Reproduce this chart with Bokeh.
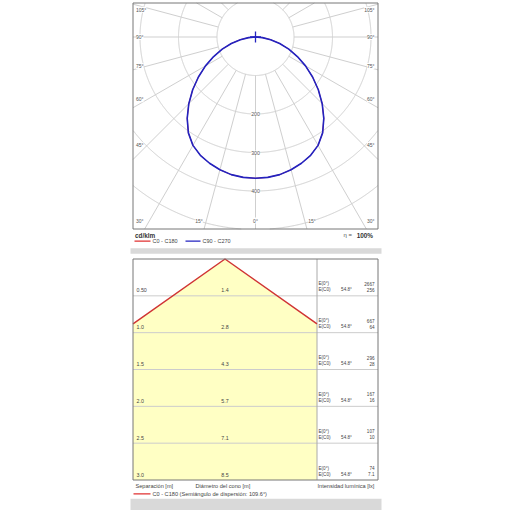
import numpy as np
from bokeh.plotting import figure
from bokeh.models import Range1d, Label
from bokeh.embed import file_html
from bokeh.resources import INLINE

# ---------------- data ----------------
gamma_deg = [0, 5, 10, 15, 20, 25, 30, 35, 40, 45, 50, 55, 60, 65, 70, 75, 80, 85, 90]
c0_c180 = [367, 366, 363, 357, 349, 339, 325, 304, 276, 245, 213, 181, 150, 120, 92, 65, 40, 18, 0]
c90_c270 = [367, 366, 363, 357, 349, 339, 325, 304, 276, 245, 213, 181, 150, 120, 92, 65, 40, 18, 0]
ring_values = [100, 200, 300, 400, 500, 600, 700]
ring_labels = [200, 300, 400]
spoke_step_deg = 15
angle_ticks = [-105, -90, -75, -60, -45, -30, -15, 0, 15, 30, 45, 60, 75, 90, 105]

separation_m = [0.5, 1.0, 1.5, 2.0, 2.5, 3.0]
separation_labels = ["0.50", "1.0", "1.5", "2.0", "2.5", "3.0"]
cone_diameter_m = ["1.4", "2.8", "4.3", "5.7", "7.1", "8.5"]
e_center_lx = ["2667", "667", "296", "167", "107", "74"]
e_c0_lx = ["256", "64", "28", "16", "10", "7.1"]
half_angle_deg = 54.8
beam_angle_deg = 109.6
efficiency = "100%"

# ---------------- layout constants (page px) ----------------
W, H = 510, 510
FONT = "Liberation Sans"
POL_CX, POL_CY = 255.0, 36.5
S = 0.385                      # px per cd/klm
PB_L, PB_R, PB_T, PB_B = 132.5, 377.5, 2.5, 228.5
BB_L, BB_R, BB_T, BB_B = 132.5, 377.5, 258.5, 479.5
DIV_X = 316.5
APEX_X = (BB_L + DIV_X) / 2.0
MAX_SEP = separation_m[-1]
K = (BB_B - BB_T) / MAX_SEP     # px per metre
HALF_REGION_M = (DIV_X - BB_L) / 2.0 / K
BLUE = "#2323c0"
RED = "#e03030"

p = figure(width=W, height=H, title=None, toolbar_location=None,
           x_axis_location=None, y_axis_location=None, min_border=0,
           output_backend="svg", x_range=Range1d(0, W), y_range=Range1d(H, 0))
p.grid.visible = False
p.outline_line_color = None
p.background_fill_color = "white"
p.border_fill_color = "white"

p.extra_x_ranges = {
    "pol": Range1d((0 - POL_CX) / S, (W - POL_CX) / S),
    "m": Range1d((0 - APEX_X) / K, (W - APEX_X) / K),
}
p.extra_y_ranges = {
    "pol": Range1d(-(H - POL_CY) / S, POL_CY / S),
    "m": Range1d((H - BB_T) / K, (0 - BB_T) / K),
}

# ---------------- gray bands ----------------
p.quad(left=[130, 130], right=[381, 381], top=[247.7, 498.3], bottom=[253.3, 512],
       fill_color="#d9d9d9", line_color=None)

# ---------------- polar grid ----------------
bx0, bx1 = (PB_L - POL_CX) / S, (PB_R - POL_CX) / S
by_top, by_bot = (POL_CY - PB_T) / S, -(PB_B - POL_CY) / S
GRID = "#cfcfcf"
phi = np.radians(np.arange(0, 360.01, 0.25))
for R in ring_values:
    x = R * np.sin(phi)
    y = R * np.cos(phi)
    inside = (x >= bx0) & (x <= bx1) & (y <= by_top) & (y >= by_bot)
    x = np.where(inside, x, np.nan)
    y = np.where(inside, y, np.nan)
    p.line(x, y, line_color=GRID, line_width=1, x_range_name="pol", y_range_name="pol")

sx, sy = [], []
r0 = ring_values[0]
for a in range(0, 360, spoke_step_deg):
    th = np.radians(a)
    dx, dy = np.sin(th), -np.cos(th)
    tx = bx1 / dx if dx > 1e-9 else (bx0 / dx if dx < -1e-9 else np.inf)
    ty = by_top / dy if dy > 1e-9 else (by_bot / dy if dy < -1e-9 else np.inf)
    t = min(tx, ty)
    if t > r0:
        sx.append([r0 * dx, t * dx])
        sy.append([r0 * dy, t * dy])
p.multi_line(sx, sy, line_color=GRID, line_width=1, x_range_name="pol", y_range_name="pol")

# ---------------- polar curves ----------------
g = np.array(gamma_deg, dtype=float)
def full_curve(vals):
    v = np.array(vals, dtype=float)
    ang = np.concatenate([-g[::-1], g[1:]])
    iv = np.concatenate([v[::-1], v[1:]])
    th = np.radians(ang)
    return iv * np.sin(th), -iv * np.cos(th)

x0, y0 = full_curve(c0_c180)
p.line(x0, y0, line_color=RED, line_width=1.0, x_range_name="pol", y_range_name="pol")
x9, y9 = full_curve(c90_c270)
p.line(x9, y9, line_color=BLUE, line_width=1.6, line_join="round",
       x_range_name="pol", y_range_name="pol")
p.scatter([0], [0], marker="cross", size=11, line_color=BLUE, line_width=1.3,
          x_range_name="pol", y_range_name="pol")

# box
p.quad(left=PB_L, right=PB_R, top=PB_T, bottom=PB_B, fill_color=None,
       line_color="#777777", line_width=1)

# angle labels
for a in angle_ticks:
    aa = abs(a)
    if aa >= 30:
        y = POL_CY + (108.0 / np.tan(np.radians(aa)) if aa != 90 else 0.0)
        y = min(max(y, 9.3), 220.0)
        if a < 0:
            x, al = 135.5, "left"
        else:
            x, al = 374.0, "right"
    else:
        y = 220.0
        x = POL_CX + 211.0 * np.tan(np.radians(a))
        al = "center"
    p.add_layout(Label(x=x, y=y, text=f"{aa}°", text_align=al, text_baseline="middle",
                       text_font=FONT, text_font_size="5px", text_color="#555555",
                       background_fill_color="white"))

for R in ring_labels:
    p.add_layout(Label(x=0, y=-R, x_range_name="pol", y_range_name="pol", text=str(R),
                       text_align="center", text_baseline="middle", text_font=FONT,
                       text_font_size="5.2px", text_color="#555555",
                       background_fill_color="white"))

# legend under polar
p.add_layout(Label(x=134.5, y=234.5, text="cd/klm", text_font=FONT, text_font_size="6.4px",
                   text_font_style="bold", text_color="#333333", text_baseline="middle"))
p.add_layout(Label(x=343, y=234.5, text="η =", text_font=FONT, text_font_size="6px",
                   text_color="#555555", text_baseline="middle"))
p.add_layout(Label(x=372.5, y=234.5, text=efficiency, text_font=FONT, text_font_size="6.4px",
                   text_font_style="bold", text_color="#333333", text_baseline="middle",
                   text_align="right"))
p.line([134, 150], [240.7, 240.7], line_color=RED, line_width=1.3)
p.add_layout(Label(x=152, y=240.7, text="C0 - C180", text_font=FONT, text_font_size="5.5px",
                   text_color="#444444", text_baseline="middle"))
p.line([185, 200], [240.7, 240.7], line_color=BLUE, line_width=1.3)
p.add_layout(Label(x=202, y=240.7, text="C90 - C270", text_font=FONT, text_font_size="5.5px",
                   text_color="#444444", text_baseline="middle"))

# ---------------- cone diagram ----------------
h_edge = HALF_REGION_M / np.tan(np.radians(half_angle_deg))
p.patch([0, -HALF_REGION_M, -HALF_REGION_M, HALF_REGION_M, HALF_REGION_M],
        [0, h_edge, MAX_SEP, MAX_SEP, h_edge],
        fill_color="#ffffc4", line_color=None, x_range_name="m", y_range_name="m")

# row grid lines
xr_m = (BB_R - APEX_X) / K
p.multi_line([[-HALF_REGION_M, xr_m] for _ in separation_m[:-1]],
             [[s, s] for s in separation_m[:-1]],
             line_color="#cccccc", line_width=1, x_range_name="m", y_range_name="m")
p.line([DIV_X, DIV_X], [BB_T, BB_B], line_color="#aaaaaa", line_width=1)

# cone edges
p.line([-HALF_REGION_M, 0, HALF_REGION_M], [h_edge, 0, h_edge], line_color="#d03535",
       line_width=1.5, x_range_name="m", y_range_name="m")

p.quad(left=BB_L, right=BB_R, top=BB_T, bottom=BB_B, fill_color=None,
       line_color="#777777", line_width=1)

for s, sl, d, e0, ec in zip(separation_m, separation_labels, cone_diameter_m, e_center_lx, e_c0_lx):
    yb = BB_T + s * K
    p.add_layout(Label(x=136, y=yb - 5.5, text=sl, text_font=FONT, text_font_size="5.3px",
                       text_color="#444444", text_baseline="middle"))
    p.add_layout(Label(x=APEX_X, y=yb - 5.5, text=d, text_font=FONT, text_font_size="5.3px",
                       text_color="#444444", text_baseline="middle", text_align="center"))
    p.add_layout(Label(x=318, y=yb - 12, text="E(0°)", text_font=FONT, text_font_size="4.6px",
                       text_color="#444444", text_baseline="middle"))
    p.add_layout(Label(x=318, y=yb - 6, text="E(C0)", text_font=FONT, text_font_size="4.6px",
                       text_color="#444444", text_baseline="middle"))
    p.add_layout(Label(x=346, y=yb - 6, text=f"{half_angle_deg}°", text_font=FONT,
                       text_font_size="4.6px", text_color="#444444", text_baseline="middle",
                       text_align="center"))
    p.add_layout(Label(x=374, y=yb - 12, text=e0, text_font=FONT, text_font_size="4.6px",
                       text_color="#444444", text_baseline="middle", text_align="right"))
    p.add_layout(Label(x=374, y=yb - 6, text=ec, text_font=FONT, text_font_size="4.6px",
                       text_color="#444444", text_baseline="middle", text_align="right"))

p.add_layout(Label(x=135, y=485.5, text="Separación [m]", text_font=FONT, text_font_size="5.6px",
                   text_color="#444444", text_baseline="middle"))
p.add_layout(Label(x=195, y=485.5, text="Diámetro del cono [m]", text_font=FONT,
                   text_font_size="5.6px", text_color="#444444", text_baseline="middle"))
p.add_layout(Label(x=317, y=485.5, text="Intensidad lumínica [lx]", text_font=FONT,
                   text_font_size="5.6px", text_color="#444444", text_baseline="middle"))
p.line([133, 150], [493.3, 493.3], line_color=RED, line_width=1.3)
p.add_layout(Label(x=152, y=493.3, text=f"C0 - C180 (Semiángulo de dispersión: {beam_angle_deg}°)",
                   text_font=FONT, text_font_size="5.6px", text_color="#444444",
                   text_baseline="middle"))

open("out.html", "w").write(file_html(p, INLINE))
